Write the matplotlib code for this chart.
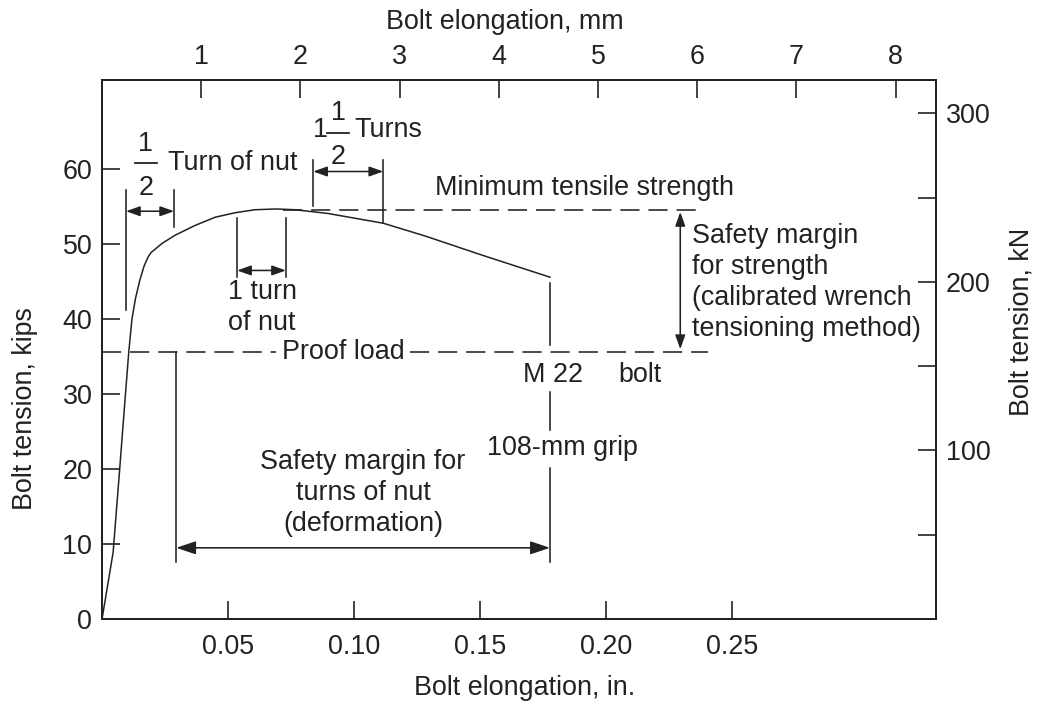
import matplotlib.pyplot as plt

plt.rcParams['font.family'] = ['Liberation Sans', 'DejaVu Sans']

# bolt elongation (in.) vs bolt tension (kips)
elong_in = [0.0, 0.0044, 0.0070, 0.0092, 0.0106, 0.0119, 0.0133, 0.0150, 0.0167,
            0.0183, 0.0195, 0.0238, 0.0290, 0.0369, 0.0449, 0.0528, 0.0607,
            0.0690, 0.0766, 0.0897, 0.1116, 0.1282, 0.1512, 0.1778]
tension_kips = [0.0, 8.9, 20.0, 29.6, 35.6, 40.1, 42.8, 45.2, 47.1,
                48.3, 48.9, 50.1, 51.2, 52.5, 53.6, 54.2, 54.6,
                54.7, 54.6, 54.1, 52.8, 51.1, 48.5, 45.6]

min_tensile = 54.6
proof_load = 35.6

in_ticks = [0.05, 0.10, 0.15, 0.20, 0.25]
in_labels = ['0.05', '0.10', '0.15', '0.20', '0.25']
kips_ticks = [0, 10, 20, 30, 40, 50, 60]
mm_ticks = [1, 2, 3, 4, 5, 6, 7, 8]
kn_major = [100, 200, 300]
kn_minor = [50, 150, 250]

IN_TO_MM = 25.4
KIP_TO_KN = 4.448
xmax = 0.331
ymax = 71.9

ink = '#222222'
fs = 19.4
lw = 1.15
dash = (0, (12, 5.6))

fig = plt.figure(figsize=(10.37, 7.04), dpi=100)
ax = fig.add_axes([0.0984, 0.1207, 0.8042, 0.7656])
ax.set_xlim(0, xmax)
ax.set_ylim(0, ymax)

ax.plot(elong_in, tension_kips, color=ink, lw=1.1)

# reference levels
ax.plot([0.072, 0.2386], [min_tensile, min_tensile], color=ink, lw=lw, ls=dash)
ax.plot([0.0, 0.069], [proof_load, proof_load], color=ink, lw=lw, ls=dash)
ax.plot([0.1223, 0.2406], [proof_load, proof_load], color=ink, lw=lw, ls=dash)
ax.text(0.132, 57.5, 'Minimum tensile strength', fontsize=fs, color=ink, va='center', ha='left')
ax.text(0.0957, proof_load, 'Proof load', fontsize=fs, color=ink, va='center', ha='center')

small = dict(arrowstyle='<|-|>,head_length=0.42,head_width=0.15', color=ink, lw=lw,
             shrinkA=0, shrinkB=0, mutation_scale=20)
big = dict(arrowstyle='<|-|>,head_length=0.6,head_width=0.2', color=ink, lw=lw,
           shrinkA=0, shrinkB=0, mutation_scale=20)

def vline(x, y0, y1):
    ax.plot([x, x], [y0, y1], color=ink, lw=lw)

def frac(x, y, half_w):
    ax.text(x, y + 2.6, '1', fontsize=fs, color=ink, ha='center', va='center')
    ax.text(x, y - 3.3, '2', fontsize=fs, color=ink, ha='center', va='center')
    ax.plot([x - half_w, x + half_w], [y, y], color=ink, lw=1.3)

# 1/2 turn of nut
vline(0.0095, 41.2, 57.2)
vline(0.0286, 52.3, 57.2)
ax.annotate('', xy=(0.0095, 54.4), xytext=(0.0286, 54.4), arrowprops=small)
frac(0.0174, 60.8, 0.0044)
ax.text(0.0262, 60.8, 'Turn of nut', fontsize=fs, color=ink, va='center', ha='left')

# 1 1/2 turns
vline(0.0838, 55.1, 61.2)
vline(0.1116, 52.8, 61.2)
ax.annotate('', xy=(0.0838, 59.7), xytext=(0.1116, 59.7), arrowprops=small)
ax.text(0.0867, 65.2, '1', fontsize=fs, color=ink, va='center', ha='center')
frac(0.0937, 64.9, 0.0044)
ax.text(0.1000, 65.2, 'Turns', fontsize=fs, color=ink, va='center', ha='left')

# 1 turn of nut
vline(0.0536, 45.6, 53.5)
vline(0.0730, 45.6, 53.5)
ax.annotate('', xy=(0.0536, 46.5), xytext=(0.0730, 46.5), arrowprops=small)
ax.text(0.0635, 41.5, '1 turn\nof nut', fontsize=fs, color=ink, va='center', ha='center',
        linespacing=1.25)

# M 22 bolt, 108-mm grip
vline(0.1778, 36.5, 44.8)
vline(0.1778, 25.2, 30.3)
vline(0.1778, 7.6, 20.1)
ax.text(0.179, 32.5, 'M 22', fontsize=fs, color=ink, va='center', ha='center')
ax.text(0.2136, 32.5, 'bolt', fontsize=fs, color=ink, va='center', ha='center')
ax.text(0.1826, 22.8, '108-mm grip', fontsize=fs, color=ink, va='center', ha='center')

# safety margin for turns of nut
vline(0.0294, 7.6, proof_load)
ax.annotate('', xy=(0.0294, 9.5), xytext=(0.1778, 9.5), arrowprops=big)
ax.text(0.1036, 16.8, 'Safety margin for\nturns of nut\n(deformation)', fontsize=fs,
        color=ink, va='center', ha='center', linespacing=1.25)

# safety margin for strength
ax.annotate('', xy=(0.2295, min_tensile - 0.3), xytext=(0.2295, proof_load + 0.4), arrowprops=small)
ax.text(0.2340, 44.9, 'Safety margin\nfor strength\n(calibrated wrench\ntensioning method)',
        fontsize=fs, color=ink, va='center', ha='left', linespacing=1.25)

# axes styling
for sp in ax.spines.values():
    sp.set_linewidth(1.3)
    sp.set_color(ink)
ax.set_xticks(in_ticks)
ax.set_xticklabels(in_labels)
ax.set_yticks(kips_ticks)
ax.tick_params(direction='in', length=13, width=1.2, labelsize=fs, colors=ink, pad=7)
ax.tick_params(axis='x', pad=11)

ax_t = ax.twiny()
ax_t.set_xlim(0, xmax * IN_TO_MM)
ax_t.set_xticks(mm_ticks)
ax_t.tick_params(direction='in', length=13, width=1.2, labelsize=fs, colors=ink, pad=7)

ax_r = ax.twinx()
ax_r.set_ylim(0, ymax * KIP_TO_KN)
ax_r.set_yticks(kn_major)
ax_r.set_yticks(kn_minor, minor=True)
ax_r.tick_params(which='both', direction='in', length=13, width=1.2, labelsize=fs,
                 colors=ink, pad=7)

for a in (ax_t, ax_r):
    for sp in a.spines.values():
        sp.set_linewidth(1.3)
        sp.set_color(ink)

fig.text(505 / 1037, 1 - 22 / 704, 'Bolt elongation, mm', fontsize=fs, color=ink,
         ha='center', va='center')
fig.text(525 / 1037, 1 - 688 / 704, 'Bolt elongation, in.', fontsize=fs, color=ink,
         ha='center', va='center')
fig.text(25 / 1037, 1 - 409 / 704, 'Bolt tension, kips', fontsize=fs, color=ink,
         ha='center', va='center', rotation=90)
fig.text(1022 / 1037, 1 - 322 / 704, 'Bolt tension, kN', fontsize=fs, color=ink,
         ha='center', va='center', rotation=90)

fig.savefig('out.png', dpi=100)
